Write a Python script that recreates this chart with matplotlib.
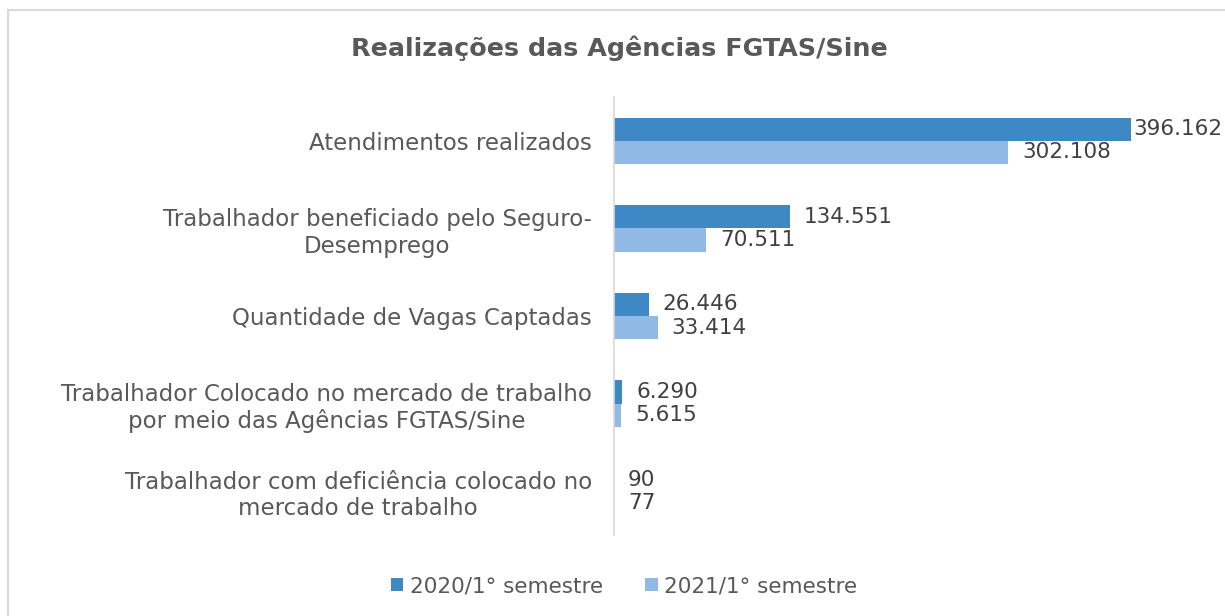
import matplotlib
matplotlib.use("Agg")
import matplotlib.pyplot as plt
from matplotlib.patches import Rectangle
import numpy as np

categories = [
    "Atendimentos realizados",
    "Trabalhador beneficiado pelo Seguro-\nDesemprego",
    "Quantidade de Vagas Captadas",
    "Trabalhador Colocado no mercado de trabalho\npor meio das Agências FGTAS/Sine",
    "Trabalhador com deficiência colocado no\nmercado de trabalho",
]
s2020 = [396162, 134551, 26446, 6290, 90]
s2021 = [302108, 70511, 33414, 5615, 77]
series_names = ["2020/1° semestre", "2021/1° semestre"]

c_dark = "#3E88C5"
c_light = "#90B9E5"
txt = "#595959"

def fmt(v):
    return f"{v:,}".replace(",", ".")

plt.rcParams["font.family"] = ["DejaVu Sans"]
fig = plt.figure(figsize=(12.25, 6.16), dpi=100)
ax = fig.add_axes([614 / 1225, 1 - 535 / 616, 608 / 1225, 438 / 616])

y = np.arange(len(categories))
h = 0.265
ax.barh(y - h / 2, s2020, height=h, color=c_dark, label=series_names[0])
ax.barh(y + h / 2, s2021, height=h, color=c_light, label=series_names[1])

xmax = 396162 * 608 / 517
ax.set_xlim(0, xmax)
ax.set_ylim(len(categories) - 0.5, -0.5)

fig.canvas.draw()
renderer = fig.canvas.get_renderer()
off = xmax * 14 / 608
for vals, dy in ((s2020, -h / 2), (s2021, h / 2)):
    for i, v in enumerate(vals):
        t = ax.text(v + off, y[i] + dy, fmt(v), va="center", ha="left",
                    fontsize=15.5, color="#404040")
        # keep the label inside the chart area, like Excel does
        bb = t.get_window_extent(renderer).transformed(ax.transData.inverted())
        if bb.x1 > xmax:
            t.set_x(v + off - (bb.x1 - xmax))

ax.set_yticks(y)
ax.set_yticklabels(categories, fontsize=16.5, color=txt, multialignment="center")
ax.tick_params(axis="y", length=0, pad=16)
ax.set_xticks([])
for s in ["top", "right", "bottom"]:
    ax.spines[s].set_visible(False)
ax.spines["left"].set_color("#D9D9D9")
ax.spines["left"].set_linewidth(1.2)

fig.text(619 / 1225, 1 - 48 / 616, "Realizações das Agências FGTAS/Sine", ha="center",
         va="center", fontsize=18.3, fontweight="bold", color=txt, family="DejaVu Sans")

fig.legend(loc="center", bbox_to_anchor=(624 / 1225, 1 - 586 / 616), ncol=2, frameon=False,
           fontsize=15.5, labelcolor=txt, handlelength=0.6, handleheight=0.6,
           handletextpad=0.3, columnspacing=1.95)

fig.patches.append(Rectangle((8 / 1225, -0.1), 1.2, 1 - 10 / 616 + 0.1, transform=fig.transFigure,
                             fill=False, edgecolor="#D9D9D9", linewidth=1.5))

fig.savefig("out.png", dpi=100)
